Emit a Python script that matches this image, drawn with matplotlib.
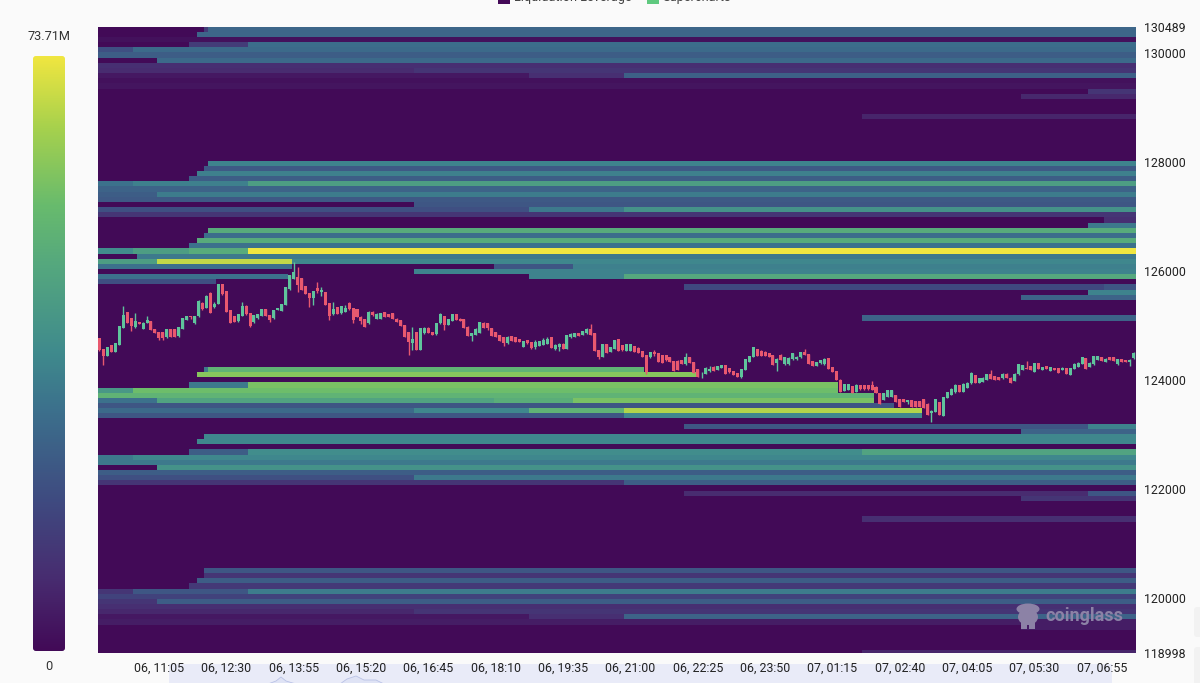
import numpy as np
import matplotlib
matplotlib.use("Agg")
import matplotlib.pyplot as plt
from matplotlib.colors import LinearSegmentedColormap
from matplotlib.patches import FancyBboxPatch, Rectangle, Ellipse

plt.rcParams['font.family'] = ['Roboto', 'DejaVu Sans']

# price axis
price_top = 130489
price_bottom = 118998
price_ticks = [130489, 130000, 128000, 126000, 124000, 122000, 120000, 118998]
row_step = 94.65
max_value = 73.71

# time axis, one candle every 5 minutes
n_candles = 262
time_tick_pos = [15, 32, 49, 66, 83, 100, 117, 134, 151, 168, 185, 202, 219, 236, 253]
time_tick_labels = ["06, 11:05", "06, 12:30", "06, 13:55", "06, 15:20", "06, 16:45",
                    "06, 18:10", "06, 19:35", "06, 21:00", "06, 22:25", "06, 23:50",
                    "07, 01:15", "07, 02:40", "07, 04:05", "07, 05:30", "07, 06:55"]

# liquidation bands: row from the top, first and last candle, value in millions
band_rows = [0, 0, 1, 2, 3, 3, 4, 4, 5, 6, 7, 8, 8, 9, 9, 9, 10, 11, 12, 13, 17,
             26, 27, 28, 29, 30, 30, 30, 31, 32, 32, 33, 34, 35, 35, 35, 36, 37, 38,
             39, 40, 41, 42, 43, 43, 43, 43, 44, 45, 45, 45, 46, 46, 46, 47, 48, 48, 48,
             49, 50, 50, 51, 52, 56,
             66, 66, 67, 69, 69, 70, 70, 71, 72, 72, 72, 72, 73, 74, 74, 74, 74, 75, 75,
             77, 77, 78, 79, 80, 82, 82, 82, 83, 83, 84, 85, 86, 87, 87, 88, 88,
             90, 90, 91, 95,
             105, 106, 107, 108, 109, 109, 109, 110, 111, 111, 112, 113, 113,
             114, 114, 114, 115, 116, 121]
band_starts = [27, 28, 25, 0, 23, 38, 0, 9, 0, 15, 0, 0, 80, 0, 109, 133, 0, 0, 250, 233, 193,
               28, 27, 25, 23, 0, 9, 38, 0, 0, 15, 0, 80, 0, 109, 133, 0, 254, 250,
               28, 27, 25, 23, 0, 9, 23, 38, 10, 0, 15, 49, 0, 100, 120, 80, 0, 109, 133,
               0, 148, 254, 250, 233, 193,
               27, 28, 25, 23, 38, 0, 9, 0, 0, 15, 100, 120, 0, 0, 80, 109, 133, 0, 133,
               148, 250, 233, 27, 25, 23, 38, 193, 0, 9, 0, 15, 0, 0, 80, 0, 133,
               148, 250, 233, 193,
               27, 27, 25, 23, 0, 9, 38, 0, 0, 15, 0, 0, 80,
               0, 109, 133, 0, 233, 193]
band_ends = [28, 262, 262, 262, 38, 262, 9, 262, 262, 262, 262, 80, 262, 109, 133, 262, 262, 262, 262, 262, 262,
             262, 262, 262, 262, 9, 38, 262, 262, 15, 262, 262, 262, 109, 133, 262, 262, 262, 262,
             262, 262, 262, 262, 9, 23, 38, 262, 262, 15, 49, 262, 49, 120, 262, 262, 48, 133, 262,
             30, 254, 262, 262, 262, 262,
             28, 138, 151, 38, 187, 9, 187, 196, 15, 100, 120, 196, 201, 80, 109, 133, 208, 133, 208,
             250, 262, 262, 262, 262, 38, 193, 262, 9, 262, 262, 262, 262, 80, 262, 133, 262,
             250, 262, 262, 262,
             262, 262, 262, 262, 9, 38, 262, 262, 15, 262, 262, 80, 262,
             109, 133, 262, 262, 262, 262]
band_values = [14, 27, 27, 2, 14, 29, 20, 28, 24, 28, 10, 9, 12, 4, 10, 25, 2, 3, 12, 8, 7,
               35, 23, 34, 24, 30, 34, 44, 26, 24, 33, 23, 22, 20, 32, 40, 12, 10, 32,
               49, 29, 49, 30, 38, 44, 49, 73.7, 32, 44, 68, 36, 30, 22, 34, 35, 30, 35, 48,
               20, 18, 22, 35, 26, 26,
               32, 52, 60, 32, 58, 42, 56, 52, 30, 46, 50, 58, 22, 28, 36, 52, 66, 22, 36,
               22, 35, 26, 36, 36, 24, 38, 46, 32, 36, 32, 40, 24, 20, 32, 12, 24,
               9, 22, 12, 10,
               22, 12, 24, 13, 12, 22, 33, 16, 12, 24, 10, 8, 12,
               4, 10, 26, 5, 5, 7]

# candles
opens = [124777, 124563, 124447, 124642, 124520, 124642, 124960, 125242, 125132, 124979,
         125071, 124936, 125040, 125089, 124936, 124875, 124875, 124783, 124936, 124936,
         124808, 124930, 125101, 125170, 125040, 125181, 125419, 125327, 125603, 125346,
         125401, 125756, 125630, 125279, 125175, 125083, 125181, 125364, 125224, 125071,
         125132, 125181, 125303, 125193, 125144, 125285, 125266, 125376, 125670, 125854,
         125896, 125866, 125731, 125603, 125511, 125700, 125620, 125621, 125407, 125217,
         125346, 125224, 125254, 125419, 125315,
         125297, 125150, 125113, 125040, 125254, 125130, 125130, 125254, 125211, 125223,
         125130, 125101, 125009, 124875, 124690, 124887, 124550, 124856, 124965, 124887,
         124838, 125040, 125175, 125010, 125089, 125211, 125130, 125119, 124979, 124807,
         124826, 124870, 125040, 125040, 124948, 124887, 124826, 124795, 124675, 124807,
         124783, 124746, 124612, 124734, 124703, 124610, 124625, 124642, 124670, 124783,
         124580, 124600, 124670, 124570, 124790, 124800, 124856, 124825, 124856, 124945,
         124856, 124550, 124428, 124655, 124520, 124580,
         124746, 124642, 124540, 124540, 124624, 124593, 124538, 124459, 124416, 124520,
         124490, 124458, 124458, 124428, 124355, 124355, 124367, 124290, 124428, 124336,
         124195, 124105, 124110, 124170, 124245, 124185, 124225, 124275, 124214, 124170,
         124122, 124050, 124183, 124336, 124428, 124570, 124538, 124520, 124500, 124459,
         124305, 124459, 124290, 124290, 124380, 124380, 124415, 124520, 124478, 124355,
         124258, 124305, 124290, 124397, 124245, 124170, 124010, 123798, 123815, 123890,
         123785, 123908, 123908, 123908, 123908, 123880,
         123755, 123633, 123694, 123694, 123724, 123645, 123645, 123590, 123633, 123620,
         123620, 123645, 123570, 123400, 123420, 123590, 123345, 123675, 123725, 123775,
         123908, 123785, 123860, 123940, 124090, 123950, 123970, 124000, 124110, 124072,
         124060, 124030, 124120, 124045, 123985, 124105, 124185, 124230, 124262, 124155,
         124318, 124185, 124262, 124165, 124225, 124225, 124185, 124213, 124092, 124200,
         124245, 124295, 124397, 124245, 124287, 124370, 124428, 124335, 124428, 124428,
         124290, 124385, 124367, 124335, 124397]
highs = [124777, 124563, 124612, 124650, 124673, 124991, 125358, 125250, 125140, 125224,
         125075, 125060, 125181, 125090, 124936, 124875, 124875, 124935, 124940, 124940,
         124967, 125144, 125175, 125181, 125185, 125470, 125425, 125560, 125610, 125438,
         125768, 125770, 125640, 125285, 125175, 125210, 125425, 125370, 125230, 125193,
         125205, 125303, 125310, 125195, 125285, 125330, 125401, 125701, 125927, 126172,
         126080, 125870, 125735, 125605, 125640, 125805, 125701, 125625, 125410, 125438,
         125350, 125358, 125376, 125430, 125320,
         125297, 125170, 125113, 125270, 125260, 125225, 125230, 125258, 125215, 125223,
         125135, 125105, 125012, 124880, 124979, 124890, 124950, 124970, 124970, 124890,
         125052, 125230, 125180, 125113, 125205, 125215, 125135, 125120, 124985, 124868,
         124950, 125070, 125060, 125050, 124950, 124890, 124830, 124798, 124807, 124810,
         124785, 124748, 124722, 124738, 124705, 124734, 124722, 124765, 124783, 124785,
         124670, 124685, 124672, 124826, 124856, 124868, 124860, 124905, 124950, 125028,
         124860, 124555, 124660, 124660, 124612, 124734,
         124750, 124645, 124654, 124660, 124630, 124600, 124540, 124465, 124520, 124550,
         124495, 124460, 124460, 124432, 124358, 124360, 124370, 124500, 124432, 124340,
         124198, 124150, 124232, 124250, 124250, 124260, 124275, 124277, 124215, 124172,
         124125, 124195, 124380, 124440, 124612, 124575, 124545, 124525, 124505, 124462,
         124400, 124475, 124415, 124415, 124500, 124435, 124520, 124565, 124480, 124358,
         124340, 124367, 124400, 124400, 124248, 124172, 124012, 123925, 123925, 123895,
         123920, 123910, 123915, 123915, 123990, 123885,
         123760, 123770, 123816, 123820, 123728, 123650, 123650, 123635, 123638, 123625,
         123625, 123650, 123575, 123450, 123655, 123595, 123695, 123790, 123850, 123920,
         123912, 123940, 123960, 124140, 124095, 124045, 124050, 124120, 124180, 124075,
         124063, 124122, 124125, 124050, 124125, 124295, 124280, 124348, 124265, 124320,
         124322, 124245, 124265, 124245, 124228, 124228, 124235, 124215, 124225, 124305,
         124325, 124430, 124400, 124325, 124450, 124440, 124430, 124400, 124432, 124432,
         124385, 124388, 124370, 124385, 124510]
lows = [124532, 124275, 124440, 124510, 124510, 124640, 124960, 125052, 124899, 124948,
        125022, 124936, 125040, 124918, 124857, 124734, 124734, 124780, 124795, 124800,
        124800, 124930, 125095, 125130, 125030, 125150, 125290, 125320, 125224, 125320,
        125400, 125570, 125254, 125040, 125060, 125070, 125175, 125200, 124967, 125040,
        125120, 125175, 125181, 125071, 125120, 125280, 125260, 125370, 125660, 125850,
        125620, 125652, 125572, 125346, 125376, 125590, 125540, 125376, 125100, 125200,
        125217, 125217, 125250, 125285, 125040,
        125162, 125025, 124979, 125030, 125180, 125125, 125125, 125160, 125150, 125115,
        125058, 124990, 124795, 124459, 124550, 124550, 124545, 124850, 124860, 124820,
        124830, 125035, 124917, 125005, 125085, 125101, 125085, 124950, 124807, 124722,
        124820, 124865, 124950, 124920, 124807, 124795, 124722, 124624, 124670, 124722,
        124704, 124700, 124610, 124670, 124580, 124563, 124620, 124640, 124665, 124581,
        124560, 124538, 124570, 124565, 124780, 124795, 124807, 124820, 124850, 124825,
        124532, 124380, 124420, 124500, 124515, 124575,
        124540, 124540, 124535, 124535, 124520, 124500, 124428, 124110, 124410, 124440,
        124340, 124305, 124355, 124340, 124170, 124180, 124290, 124285, 124305, 124135,
        124060, 124040, 124105, 124150, 124170, 124180, 124220, 124120, 124135, 124090,
        124050, 124045, 124178, 124330, 124425, 124440, 124440, 124440, 124428, 124275,
        124165, 124367, 124285, 124285, 124375, 124375, 124410, 124455, 124295, 124258,
        124255, 124300, 124285, 124195, 124150, 123995, 123785, 123795, 123810, 123755,
        123780, 123825, 123825, 123825, 123815, 123755,
        123553, 123630, 123690, 123690, 123590, 123510, 123590, 123570, 123510, 123500,
        123500, 123480, 123357, 123235, 123415, 123360, 123340, 123670, 123720, 123770,
        123785, 123780, 123855, 123935, 123940, 123945, 123965, 123995, 124015, 123998,
        123998, 124025, 124030, 123938, 123980, 124100, 124180, 124195, 124185, 124150,
        124200, 124180, 124200, 124160, 124180, 124122, 124180, 124105, 124088, 124195,
        124240, 124290, 124200, 124240, 124280, 124365, 124355, 124330, 124365, 124350,
        124285, 124335, 124325, 124265, 124395]
closes = [124551, 124447, 124612, 124520, 124673, 124991, 125193, 125052, 124991, 125089,
          125022, 125052, 125101, 124918, 124857, 124765, 124765, 124930, 124795, 124800,
          124967, 125144, 125175, 125150, 125181, 125456, 125297, 125548, 125224, 125400,
          125762, 125572, 125254, 125052, 125071, 125205, 125364, 125205, 124990, 125193,
          125205, 125303, 125181, 125110, 125285, 125327, 125401, 125701, 125927, 125976,
          125740, 125652, 125572, 125511, 125640, 125640, 125650, 125376, 125175, 125300,
          125217, 125358, 125330, 125300, 125100,
          125162, 125090, 124979, 125254, 125190, 125220, 125225, 125160, 125150, 125120,
          125058, 124990, 124795, 124700, 124750, 124550, 124950, 124965, 124860, 124825,
          125052, 125211, 125010, 125113, 125205, 125101, 125090, 124950, 124807, 124856,
          124945, 125070, 124950, 124950, 124810, 124795, 124722, 124680, 124800, 124725,
          124705, 124705, 124720, 124675, 124582, 124700, 124718, 124740, 124760, 124581,
          124650, 124670, 124570, 124826, 124850, 124865, 124810, 124900, 124945, 124830,
          124532, 124430, 124655, 124502, 124610, 124734,
          124540, 124560, 124654, 124660, 124520, 124505, 124428, 124153, 124515, 124480,
          124340, 124310, 124360, 124340, 124170, 124183, 124290, 124428, 124305, 124135,
          124060, 124120, 124230, 124210, 124175, 124255, 124270, 124120, 124140, 124090,
          124050, 124195, 124380, 124440, 124612, 124440, 124445, 124445, 124430, 124275,
          124395, 124370, 124415, 124410, 124490, 124430, 124520, 124460, 124295, 124260,
          124335, 124365, 124395, 124195, 124150, 123995, 123785, 123920, 123920, 123755,
          123915, 123830, 123830, 123830, 123820, 123760,
          123560, 123755, 123810, 123815, 123590, 123510, 123595, 123630, 123510, 123500,
          123500, 123485, 123360, 123430, 123650, 123360, 123695, 123785, 123845, 123915,
          123790, 123935, 123955, 124135, 123945, 124040, 124045, 124115, 124020, 124000,
          124000, 124120, 124035, 123950, 124120, 124290, 124275, 124200, 124188, 124315,
          124202, 124240, 124205, 124240, 124185, 124125, 124230, 124108, 124220, 124300,
          124320, 124425, 124205, 124320, 124445, 124435, 124358, 124395, 124368, 124352,
          124380, 124338, 124328, 124375, 124505]

# colours picked from the bar on the left
cmap_values = [0, 0.12, 0.25, 0.4, 0.5, 0.65, 0.75, 0.88, 1]
cmap_colors = ['#420a57', '#482c70', '#3f4a80', '#3c6f8c', '#3f8a8d',
               '#55a87e', '#68bb6d', '#a6d14d', '#f0e640']
cmap = LinearSegmentedColormap.from_list('liq', list(zip(cmap_values, cmap_colors)))

W, H = 1200, 683
bg = '#fafafa'
fig = plt.figure(figsize=(W / 100, H / 100), dpi=100, facecolor=bg)


def px_axes(x0, y0, x1, y1):
    return fig.add_axes([x0 / W, 1 - y1 / H, (x1 - x0) / W, (y1 - y0) / H])


# slider strip sits under everything
back = fig.add_axes([0, 0, 1, 1], facecolor='none', zorder=0)
back.set_xlim(0, W)
back.set_ylim(H, 0)
back.axis('off')
back.add_patch(Rectangle((169, 664), 943, 20, color='#e9ebf8', lw=0, zorder=0))
slider_x = [268, 276, 281, 286, 296, 340, 347, 356, 364, 376, 384]
slider_y = [684, 681, 677, 681, 684, 684, 679, 676, 680, 680, 684]
back.fill(slider_x, slider_y, facecolor='#dfe3f5', edgecolor='#b9c2e6', linewidth=0.6, zorder=1)
back.add_patch(FancyBboxPatch((1194, 607), 12, 30, boxstyle='round,pad=0,rounding_size=3',
                              facecolor='#f2f2f2', edgecolor='none'))
back.add_patch(FancyBboxPatch((1194, 647), 12, 40, boxstyle='round,pad=0,rounding_size=3',
                              facecolor='#f2f2f2', edgecolor='none'))

# heatmap
ax = px_axes(97.5, 26.7, 1135.5, 652.5)
ax.set_zorder(1)
n_rows = 123
grid = np.zeros((n_rows, n_candles))
for r, s, e, v in zip(band_rows, band_starts, band_ends, band_values):
    grid[r, s:e] = v
x_edges = np.arange(n_candles + 1)
y_edges = price_top - row_step * np.arange(n_rows + 1)
ax.pcolormesh(x_edges, y_edges, grid, cmap=cmap, vmin=0, vmax=max_value, rasterized=True)

# candles
xs = np.arange(n_candles) + 0.5
opens = np.array(opens)
closes = np.array(closes)
up = closes >= opens
colors = np.where(up, '#5fc49c', '#e8586f')
ax.vlines(xs, lows, highs, colors=colors, linewidth=1.0, zorder=3)
ax.bar(xs, np.abs(closes - opens), bottom=np.minimum(opens, closes), width=0.76,
       color=colors, linewidth=0, zorder=4)

ax.set_xlim(0, 262)
ax.set_ylim(price_bottom, price_top)
ax.set_xticks(np.array(time_tick_pos) + 0.5)
ax.set_xticklabels(time_tick_labels)
ax.yaxis.tick_right()
ax.set_yticks(price_ticks)
ax.set_yticklabels([str(p) for p in price_ticks])
ax.tick_params(length=0, labelsize=8.9, labelcolor='#222222')
ax.tick_params(axis='x', pad=7)
ax.tick_params(axis='y', pad=6)
for sp in ax.spines.values():
    sp.set_visible(False)

# colour bar
cax = px_axes(33, 56, 65, 651)
cax.set_zorder(1)
gradient = np.linspace(1, 0, 256).reshape(-1, 1)
im = cax.imshow(gradient, cmap=cmap, aspect='auto', extent=[0, 1, 0, 1], vmin=0, vmax=1)
clip = FancyBboxPatch((0, 0), 1, 1, boxstyle='round,pad=0,rounding_size=0.09',
                      mutation_aspect=32 / 595, transform=cax.transData, facecolor='none',
                      edgecolor='none')
cax.add_patch(clip)
im.set_clip_path(clip)
cax.axis('off')
fig.text(49 / W, 1 - 37 / H, '73.71M', ha='center', va='center', fontsize=9.2, color='#333333')
fig.text(49 / W, 1 - 667 / H, '0', ha='center', va='center', fontsize=9.2, color='#333333')

# overlay in picture pixels: watermark and the clipped legend
over = fig.add_axes([0, 0, 1, 1], facecolor='none', zorder=2)
over.set_xlim(0, W)
over.set_ylim(H, 0)
over.axis('off')
mark = '#8c82a6'
over.add_patch(Ellipse((1028, 609), 23, 11, color=mark, lw=0))
over.add_patch(Ellipse((1028, 617), 20, 16, color=mark, lw=0))
over.add_patch(Rectangle((1021, 620), 6, 9, color=mark, lw=0))
over.add_patch(Rectangle((1029, 620), 6, 9, color=mark, lw=0))
over.text(1084, 616, 'coinglass', ha='center', va='center', fontsize=13, fontweight='bold',
          color=mark)

over.add_patch(Rectangle((498, -4), 12, 8, color='#440a58', lw=0))
over.add_patch(Rectangle((647, -4), 12, 8, color='#5fc97f', lw=0))
over.text(514, 1, 'Liquidation Leverage', ha='left', va='baseline', fontsize=9.2, color='#444444')
over.text(662, 1, 'Supercharts', ha='left', va='baseline', fontsize=9.2, color='#444444')

fig.savefig('out.png', dpi=100, facecolor=fig.get_facecolor())
